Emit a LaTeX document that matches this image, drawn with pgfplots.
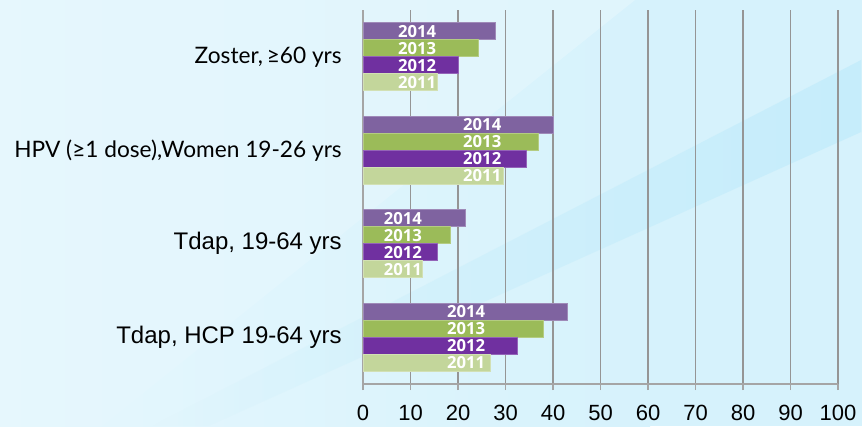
\documentclass[border=0pt]{standalone}
\usepackage{pgfplots}
\pgfplotsset{compat=1.18}
\usepackage{pgfplotstable}
\usetikzlibrary{fadings}
\usepackage{fontspec}
\setmainfont{Liberation Sans}
\newfontfamily\lato{Lato}
\newfontfamily\arial{Liberation Sans}
\newfontfamily\osans{Open Sans}
\definecolor{cA}{HTML}{7F63A0}
\definecolor{cB}{HTML}{9BBB59}
\definecolor{cC}{HTML}{7030A0}
\definecolor{cD}{HTML}{C3D69B}
\definecolor{bgL}{HTML}{E6F7FD}
\definecolor{bgR}{HTML}{D6F2FC}
\definecolor{bgB}{HTML}{C6EDFB}
\definecolor{gridc}{HTML}{959595}
\pgfplotstableread{
cat v2011 v2012 v2013 v2014 lx
0 26.8 32.6 37.9 43.0 21.7
1 12.4 15.6 18.4 21.5 8.4
2 29.5 34.5 36.9 40.1 25.1
3 15.7 20.1 24.3 27.9 11.4
}\data
\begin{document}
\begin{tikzpicture}
\begin{scope}[x=0.75pt,y=0.75pt]
\useasboundingbox (0,0) rectangle (862,426);
\shade[left color=bgL,right color=bgR] (0,0) rectangle (650,426);
\fill[bgR] (650,0) rectangle (862,426);
\fill[bgL,opacity=0.6] (0,426) -- (635,426) -- (102,0) -- (0,0) -- cycle;
\fill[bgB, path fading=west] (862,366) -- (862,294) -- (209,0) -- (152,0) -- cycle;
\end{scope}
\begin{axis}[
  at={(272.25pt,31.5pt)}, anchor=south west,
  scale only axis, width=356.25pt, height=280.5pt,
  xmin=0, xmax=100, ymin=-0.5, ymax=3.5,
  axis lines*=left,
  axis line style={draw=gridc!85, line width=1pt},
  xtick={0,10,...,100},
  xmajorgrids, grid style={draw=gridc, line width=0.9pt},
  ytick={0,1,2,3},
  yticklabels={{\arial\fontsize{18}{20}\selectfont Tdap, HCP 19-64 yrs},
               {\arial\fontsize{18}{20}\selectfont Tdap, 19-64 yrs},
               {\lato\fontsize{17}{20}\selectfont HPV (≥1 dose),Women 19-26 yrs},
               {\lato\fontsize{17}{20}\selectfont Zoster,\thinspace≥60 yrs}},
  minor ytick={-0.5,0.5,1.5,2.5,3.5},
  ytick style={draw=none},
  minor tick style={draw=gridc!85, line width=1pt},
  xtick style={draw=gridc!85, line width=1pt},
  tick align=outside,
  major tick length=4.5pt, minor tick length=5.25pt,
  /pgf/number format/assume math mode=true,
  xticklabel style={font=\fontsize{16.5}{18}\selectfont, inner sep=0pt, yshift=-11.25pt},
  yticklabel style={inner sep=0pt, xshift=-11.25pt, anchor=east},
  clip=false,
]
\addplot[xbar, bar width=12.75pt, bar shift=19.125pt, fill=cA, draw=cA!75!white, line width=0.6pt] table[x=v2014,y=cat]{\data};
\addplot[xbar, bar width=12.75pt, bar shift=6.375pt, fill=cB, draw=cB!75!white, line width=0.6pt] table[x=v2013,y=cat]{\data};
\addplot[xbar, bar width=12.75pt, bar shift=-6.375pt, fill=cC, draw=cC!75!white, line width=0.6pt] table[x=v2012,y=cat]{\data};
\addplot[xbar, bar width=12.75pt, bar shift=-19.125pt, fill=cD, draw=cD!75!white, line width=0.6pt] table[x=v2011,y=cat]{\data};
\pgfplotsset{lbl/.style={draw=none, mark=none, forget plot, nodes near coords={#1},
  every node near coord/.style={anchor=center, text=white, inner sep=0pt, font=\osans\bfseries\fontsize{12.5}{13}\selectfont}}}
\addplot[lbl=2014] table[x=lx, y expr=\thisrow{cat}+0.2727]{\data};
\addplot[lbl=2013] table[x=lx, y expr=\thisrow{cat}+0.0909]{\data};
\addplot[lbl=2012] table[x=lx, y expr=\thisrow{cat}-0.0909]{\data};
\addplot[lbl=2011] table[x=lx, y expr=\thisrow{cat}-0.2727]{\data};
\end{axis}
\end{tikzpicture}
\end{document}
